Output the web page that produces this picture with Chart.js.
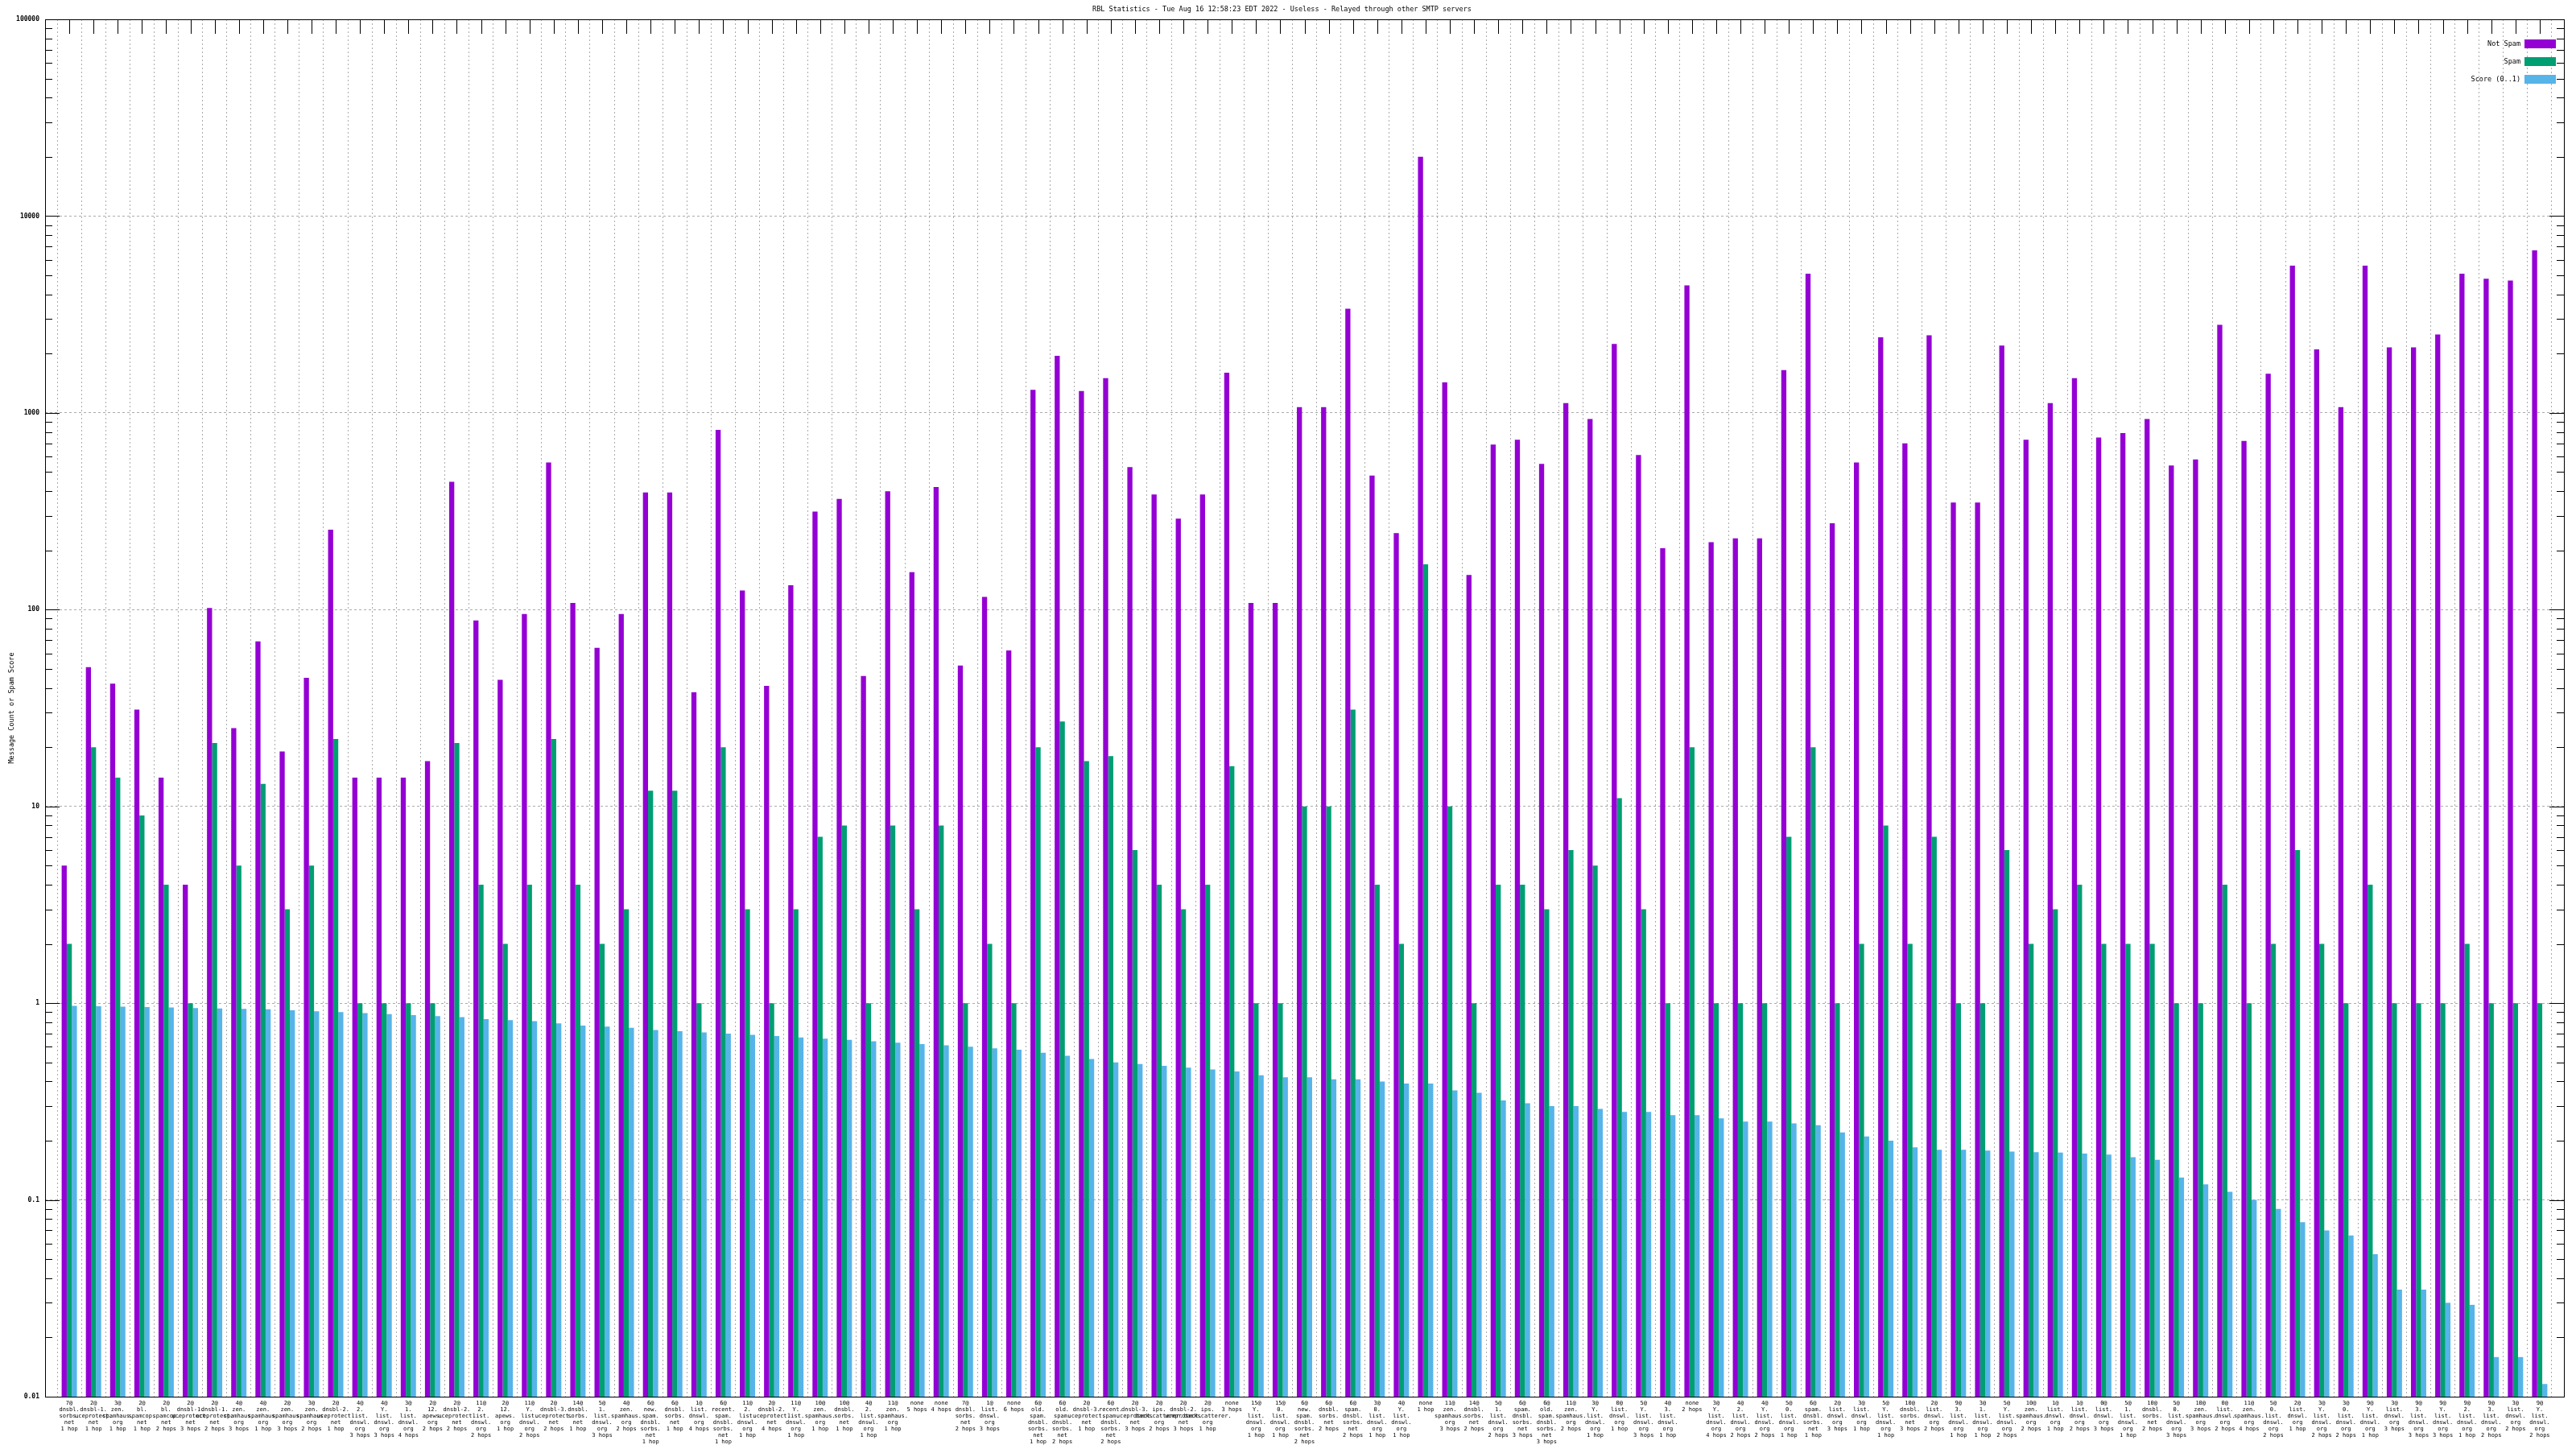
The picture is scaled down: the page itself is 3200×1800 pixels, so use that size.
<!DOCTYPE html>
<html lang="en">
<head>
  <meta charset="UTF-8">
  <title>RBL Statistics</title>
  <script src="https://cdn.jsdelivr.net/npm/chart.js"></script>
  <style>
    body { margin: 0; background: #fff; }
    canvas { display: block; }
  </style>
</head>
<body>
<canvas id="rblChart" width="3200" height="1800"></canvas>
<script>
// one entry per RBL / hop combination, in the order they are plotted
const categories = [
  '7@ dnsbl.sorbs.net 1 hop', '2@ dnsbl-1.uceprotect.net 1 hop', '3@ zen.spamhaus.org 1 hop',
  '2@ bl.spamcop.net 1 hop', '2@ bl.spamcop.net 2 hops', '2@ dnsbl-1.uceprotect.net 3 hops',
  '2@ dnsbl-1.uceprotect.net 2 hops', '4@ zen.spamhaus.org 3 hops', '4@ zen.spamhaus.org 1 hop',
  '2@ zen.spamhaus.org 3 hops', '3@ zen.spamhaus.org 2 hops', '2@ dnsbl-2.uceprotect.net 1 hop',
  '4@ 2.list.dnswl.org 3 hops', '4@ Y.list.dnswl.org 3 hops', '3@ 1.list.dnswl.org 4 hops',
  '2@ 12.apews.org 2 hops', '2@ dnsbl-2.uceprotect.net 2 hops', '11@ 2.list.dnswl.org 2 hops',
  '2@ 12.apews.org 1 hop', '11@ Y.list.dnswl.org 2 hops', '2@ dnsbl-3.uceprotect.net 2 hops',
  '14@ dnsbl.sorbs.net 1 hop', '5@ 1.list.dnswl.org 3 hops', '4@ zen.spamhaus.org 2 hops',
  '6@ new.spam.dnsbl.sorbs.net 1 hop', '6@ dnsbl.sorbs.net 1 hop', '1@ list.dnswl.org 4 hops',
  '6@ recent.spam.dnsbl.sorbs.net 1 hop', '11@ 2.list.dnswl.org 1 hop', '2@ dnsbl-2.uceprotect.net 4 hops',
  '11@ Y.list.dnswl.org 1 hop', '10@ zen.spamhaus.org 1 hop', '10@ dnsbl.sorbs.net 1 hop',
  '4@ 2.list.dnswl.org 1 hop', '11@ zen.spamhaus.org 1 hop', 'none 5 hops',
  'none 4 hops', '7@ dnsbl.sorbs.net 2 hops', '1@ list.dnswl.org 3 hops',
  'none 6 hops', '6@ old.spam.dnsbl.sorbs.net 1 hop', '6@ old.spam.dnsbl.sorbs.net 2 hops',
  '2@ dnsbl-3.uceprotect.net 1 hop', '6@ recent.spam.dnsbl.sorbs.net 2 hops', '2@ dnsbl-3.uceprotect.net 3 hops',
  '2@ ips.backscatterer.org 2 hops', '2@ dnsbl-2.uceprotect.net 3 hops', '2@ ips.backscatterer.org 1 hop',
  'none 3 hops', '15@ Y.list.dnswl.org 1 hop', '15@ 0.list.dnswl.org 1 hop',
  '6@ new.spam.dnsbl.sorbs.net 2 hops', '6@ dnsbl.sorbs.net 2 hops', '6@ spam.dnsbl.sorbs.net 2 hops',
  '3@ 0.list.dnswl.org 1 hop', '4@ Y.list.dnswl.org 1 hop', 'none 1 hop',
  '11@ zen.spamhaus.org 3 hops', '14@ dnsbl.sorbs.net 2 hops', '5@ 1.list.dnswl.org 2 hops',
  '6@ spam.dnsbl.sorbs.net 3 hops', '6@ old.spam.dnsbl.sorbs.net 3 hops', '11@ zen.spamhaus.org 2 hops',
  '3@ Y.list.dnswl.org 1 hop', '0@ list.dnswl.org 1 hop', '5@ Y.list.dnswl.org 3 hops',
  '4@ 3.list.dnswl.org 1 hop', 'none 2 hops', '3@ Y.list.dnswl.org 4 hops',
  '4@ 2.list.dnswl.org 2 hops', '4@ Y.list.dnswl.org 2 hops', '5@ 0.list.dnswl.org 1 hop',
  '6@ spam.dnsbl.sorbs.net 1 hop', '2@ list.dnswl.org 3 hops', '3@ list.dnswl.org 1 hop',
  '5@ Y.list.dnswl.org 1 hop', '10@ dnsbl.sorbs.net 3 hops', '2@ list.dnswl.org 2 hops',
  '9@ 3.list.dnswl.org 1 hop', '3@ 1.list.dnswl.org 1 hop', '5@ Y.list.dnswl.org 2 hops',
  '10@ zen.spamhaus.org 2 hops', '1@ list.dnswl.org 1 hop', '1@ list.dnswl.org 2 hops',
  '0@ list.dnswl.org 3 hops', '5@ 1.list.dnswl.org 1 hop', '10@ dnsbl.sorbs.net 2 hops',
  '5@ 0.list.dnswl.org 3 hops', '10@ zen.spamhaus.org 3 hops', '0@ list.dnswl.org 2 hops',
  '11@ zen.spamhaus.org 4 hops', '5@ 0.list.dnswl.org 2 hops', '2@ list.dnswl.org 1 hop',
  '3@ Y.list.dnswl.org 2 hops', '3@ 0.list.dnswl.org 2 hops', '9@ Y.list.dnswl.org 1 hop',
  '3@ list.dnswl.org 3 hops', '9@ 3.list.dnswl.org 3 hops', '9@ Y.list.dnswl.org 3 hops',
  '9@ 2.list.dnswl.org 1 hop', '9@ 3.list.dnswl.org 2 hops', '3@ list.dnswl.org 2 hops',
  '9@ Y.list.dnswl.org 2 hops'
];

const notSpam = [
  5, 51, 42, 31, 14, 4, 102, 25, 69, 19,
  45, 255, 14, 14, 14, 17, 446, 88, 44, 95,
  560, 108, 64, 95, 394, 394, 38, 820, 125, 41,
  133, 315, 365, 46, 400, 155, 420, 52, 116, 62,
  1310, 1950, 1290, 1500, 530, 385, 290, 385, 1600, 108,
  108, 1070, 1070, 3380, 480, 245, 20000, 1430, 150, 690,
  730, 550, 1120, 930, 2240, 610, 205, 4450, 220, 230,
  230, 1650, 5100, 275, 560, 2420, 700, 2480, 350, 350,
  2200, 730, 1120, 1500, 750, 790, 930, 540, 580, 2800,
  720, 1580, 5600, 2100, 1070, 5600, 2150, 2150, 2500, 5100,
  4800, 4700, 6700
];

const spam = [
  2, 20, 14, 9, 4, 1, 21, 5, 13, 3,
  5, 22, 1, 1, 1, 1, 21, 4, 2, 4,
  22, 4, 2, 3, 12, 12, 1, 20, 3, 1,
  3, 7, 8, 1, 8, 3, 8, 1, 2, 1,
  20, 27, 17, 18, 6, 4, 3, 4, 16, 1,
  1, 10, 10, 31, 4, 2, 170, 10, 1, 4,
  4, 3, 6, 5, 11, 3, 1, 20, 1, 1,
  1, 7, 20, 1, 2, 8, 2, 7, 1, 1,
  6, 2, 3, 4, 2, 2, 2, 1, 1, 4,
  1, 2, 6, 2, 1, 4, 1, 1, 1, 2,
  1, 1, 1
];

const score = [
  0.97, 0.965, 0.96, 0.955, 0.95, 0.945, 0.94, 0.935, 0.93, 0.92,
  0.91, 0.90, 0.89, 0.88, 0.87, 0.86, 0.85, 0.83, 0.82, 0.81,
  0.79, 0.77, 0.76, 0.75, 0.73, 0.72, 0.71, 0.70, 0.69, 0.68,
  0.67, 0.66, 0.65, 0.64, 0.63, 0.62, 0.61, 0.60, 0.59, 0.58,
  0.56, 0.54, 0.52, 0.50, 0.49, 0.48, 0.47, 0.46, 0.45, 0.43,
  0.42, 0.42, 0.41, 0.41, 0.40, 0.39, 0.39, 0.36, 0.35, 0.32,
  0.31, 0.30, 0.30, 0.29, 0.28, 0.28, 0.27, 0.27, 0.26, 0.25,
  0.25, 0.245, 0.24, 0.22, 0.21, 0.20, 0.185, 0.18, 0.18, 0.178,
  0.176, 0.175, 0.174, 0.172, 0.17, 0.165, 0.16, 0.13, 0.12, 0.11,
  0.10, 0.09, 0.077, 0.07, 0.066, 0.053, 0.035, 0.035, 0.030, 0.0293,
  0.0159, 0.0159, 0.0116
];

const yTickValues = [0.01, 0.1, 1, 10, 100, 1000, 10000, 100000];
const yTickLabels = ['0.01', '0.1', '1', '10', '100', '1000', '10000', '100000'];

const FONT = '"DejaVu Sans Mono", monospace';

// gnuplot puts each dotted part of the host on its own line
function labelLines(s) {
  const m = s.match(/^(\S+) (?:(\S+) )?(\d+ hops?)$/);
  const lines = [m[1]];
  if (m[2]) {
    const parts = m[2].split('.');
    parts.forEach((p, i) => lines.push(i < parts.length - 1 ? p + '.' : p));
  }
  lines.push(m[3]);
  return lines;
}

// blank slot at each end so the x range runs from -1 to n like gnuplot
const labels = [''].concat(categories.map(labelLines), ['']);
const pad = arr => [null].concat(arr, [null]);

const gnuplotFrame = {
  id: 'gnuplotFrame',
  beforeDatasetsDraw(chart) {
    const {ctx, chartArea: a, scales: {x, y}} = chart;
    ctx.save();
    ctx.strokeStyle = '#000';
    ctx.lineWidth = 1;
    ctx.beginPath();
    for (let d = -2; d <= 5; d++) {
      for (let k = 1; k <= 9; k++) {
        const v = k * Math.pow(10, d);
        if (v > 100000) break;
        const py = Math.round(y.getPixelForValue(v)) + 0.5;
        const len = k === 1 ? 18 : 9;
        ctx.moveTo(a.left, py); ctx.lineTo(a.left + len, py);
        ctx.moveTo(a.right, py); ctx.lineTo(a.right - len, py);
      }
    }
    for (let i = 1; i < labels.length - 1; i++) {
      const px = Math.round(x.getPixelForValue(i)) + 0.5;
      ctx.moveTo(px, a.top); ctx.lineTo(px, a.top + 18);
    }
    ctx.stroke();
    ctx.restore();
  },
  afterDatasetsDraw(chart) {
    const {ctx, chartArea: a} = chart;
    ctx.save();
    ctx.strokeStyle = '#000';
    ctx.lineWidth = 1;
    ctx.strokeRect(Math.round(a.left) + 0.5, Math.round(a.top) + 0.5,
                   Math.round(a.right - a.left), Math.round(a.bottom - a.top));
    // key, top right inside the plot
    ctx.font = '8.5px ' + FONT;
    ctx.textAlign = 'right';
    ctx.textBaseline = 'middle';
    chart.data.datasets.forEach((ds, i) => {
      const cy = a.top + 30 + i * 22;
      ctx.fillStyle = ds.backgroundColor;
      ctx.fillRect(a.right - 49, cy - 5, 39, 11);
      ctx.fillStyle = '#000';
      ctx.fillText(ds.label, a.right - 54, cy + 0.5);
    });
    ctx.restore();
  }
};

new Chart(document.getElementById('rblChart'), {
  type: 'bar',
  data: {
    labels: labels,
    datasets: [
      { label: 'Not Spam', data: pad(notSpam), backgroundColor: '#9400d3' },
      { label: 'Spam', data: pad(spam), backgroundColor: '#009e73' },
      { label: 'Score (0..1)', data: pad(score), backgroundColor: '#56b4e9' }
    ]
  },
  options: {
    responsive: false,
    maintainAspectRatio: false,
    animation: false,
    devicePixelRatio: 1,
    layout: { padding: { left: 0, right: 15, top: 0, bottom: 0 } },
    datasets: { bar: { categoryPercentage: 0.63, barPercentage: 1, borderWidth: 0 } },
    plugins: {
      legend: { display: false },
      tooltip: { enabled: false },
      title: {
        display: true,
        text: 'RBL Statistics - Tue Aug 16 12:58:23 EDT 2022 - Useless - Relayed through other SMTP servers',
        color: '#000',
        font: { family: FONT, size: 8.5, weight: 'normal', lineHeight: '10px' },
        padding: { top: 7, bottom: 7 }
      }
    },
    scales: {
      x: {
        offset: false,
        afterFit(scale) { scale.height = 65; },
        grid: { color: '#ababab', lineWidth: 1, drawTicks: false },
        border: { display: false, dash: [2, 3] },
        ticks: {
          autoSkip: false,
          maxRotation: 0,
          minRotation: 0,
          padding: 4,
          color: '#000',
          font: { family: FONT, size: 7, lineHeight: '8px' }
        }
      },
      y: {
        type: 'logarithmic',
        min: 0.01,
        max: 100000,
        afterFit(scale) { scale.width = 56; },
        afterBuildTicks(scale) { scale.ticks = yTickValues.map(v => ({ value: v })); },
        grid: { color: '#ababab', lineWidth: 1, drawTicks: false },
        border: { display: false, dash: [3, 3] },
        ticks: {
          autoSkip: false,
          padding: 7,
          color: '#000',
          font: { family: FONT, size: 8, weight: 'bold' },
          callback: (v, i) => yTickLabels[i]
        },
        title: {
          display: true,
          text: 'Message Count or Spam Score',
          color: '#000',
          font: { family: FONT, size: 8.5, lineHeight: '10px' },
          padding: { top: 10, bottom: 0 }
        }
      }
    }
  },
  plugins: [gnuplotFrame]
});
</script>
</body>
</html>
